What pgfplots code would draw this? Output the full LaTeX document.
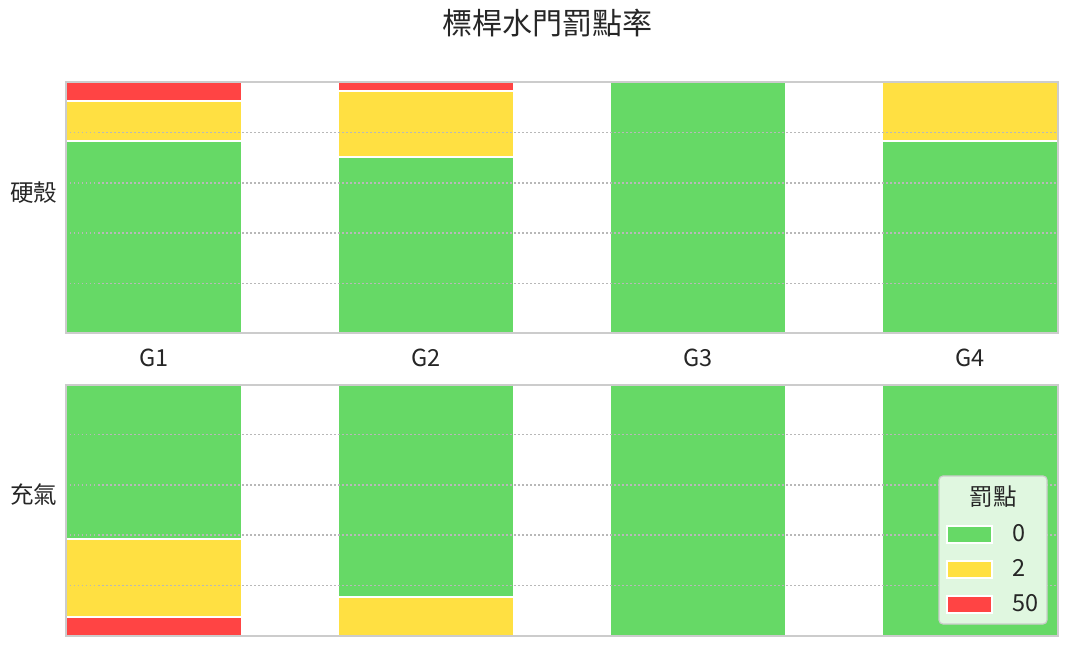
\documentclass[border=0pt]{standalone}
\usepackage{fontspec}
\setmainfont{Noto Sans CJK TC}
\usepackage{pgfplots}
\pgfplotsset{compat=1.18}

\definecolor{c0}{HTML}{66D966}
\definecolor{c2}{HTML}{FFE042}
\definecolor{c50}{HTML}{FF4444}
\definecolor{framec}{HTML}{CCCCCC}
\definecolor{gridc}{HTML}{B8B8B8}
\definecolor{legbg}{HTML}{E0F7E0}
\definecolor{txt}{HTML}{262626}

\newcommand{\lblfont}{\fontsize{23.5}{28}\selectfont}

\pgfplotsset{
  panel/.style={
    scale only axis, width=992pt, height=251pt, anchor=south west,
    ybar stacked, bar width=0.648,
    xmin=-0.324, xmax=3.324, ymin=0, ymax=1,
    xtick={0,1,2,3}, ytick={0.2,0.4,0.6,0.8}, yticklabels={},
    major tick length=0pt, ymajorgrids,
    grid style={gridc, line width=1.4pt, dash pattern=on 1.5pt off 2.5pt},
    axis line style={framec, line width=2pt},
    axis on top,
    every axis plot/.append style={draw=white, line width=2pt},
    tick label style={font=\lblfont, text=txt},
    every axis y label/.style={at={(rel axis cs:0,0.5)}, anchor=east,
      xshift=-5pt, yshift=15pt, font=\lblfont, text=txt},
  }
}

\begin{document}
\begin{tikzpicture}
\path[use as bounding box] (0pt,0pt) rectangle (1068pt,646pt);
\node[font=\fontsize{30}{34}\selectfont, text=txt] at (547pt,623pt) {標桿水門罰點率};

% 硬殼
\begin{axis}[panel, at={(66pt,312.5pt)},
  xticklabels={G1,G2,G3,G4}, xticklabel style={yshift=-12pt},
  ylabel={硬殼}]
\addplot[fill=c0] coordinates {(0,0.765) (1,0.705) (2,1) (3,0.765)};
\addplot[fill=c2] coordinates {(0,0.160) (1,0.261) (2,0) (3,0.235)};
\addplot[fill=c50] coordinates {(0,0.075) (1,0.034) (2,0) (3,0)};
\end{axis}

% 充氣
\begin{axis}[panel, at={(66pt,10.5pt)}, y dir=reverse,
  xticklabels={}, ylabel={充氣}]
\addplot[fill=c0] coordinates {(0,0.615) (1,0.848) (2,1) (3,1)};
\addplot[fill=c2] coordinates {(0,0.313) (1,0.152) (2,0) (3,0)};
\addplot[fill=c50] coordinates {(0,0.072) (1,0) (2,0) (3,0)};
\end{axis}

% legend
\begin{axis}[hide axis, scale only axis, width=992pt, height=251pt,
  anchor=south west, at={(66pt,10.5pt)},
  xmin=0, xmax=992, ymin=0, ymax=251,
  legend image code/.code={\draw[#1, draw=white, line width=2pt] (0pt,-8.5pt) rectangle (45pt,8.5pt);},
  legend cell align=left,
  legend style={at={(axis cs:877,113)}, anchor=north west, draw=none, fill=none,
    font=\lblfont, text=txt, column sep=19pt, row sep=16pt,
    nodes={inner sep=0pt}}]
\draw[framec, line width=1.2pt, fill=legbg, rounded corners=4pt]
  (axis cs:873,11.5) rectangle (axis cs:981,159.5);
\node[font=\lblfont, text=txt] at (axis cs:927,138.5) {罰點};
\addlegendimage{fill=c0}\addlegendentry{0}
\addlegendimage{fill=c2}\addlegendentry{2}
\addlegendimage{fill=c50}\addlegendentry{50}
\end{axis}
\end{tikzpicture}
\end{document}
